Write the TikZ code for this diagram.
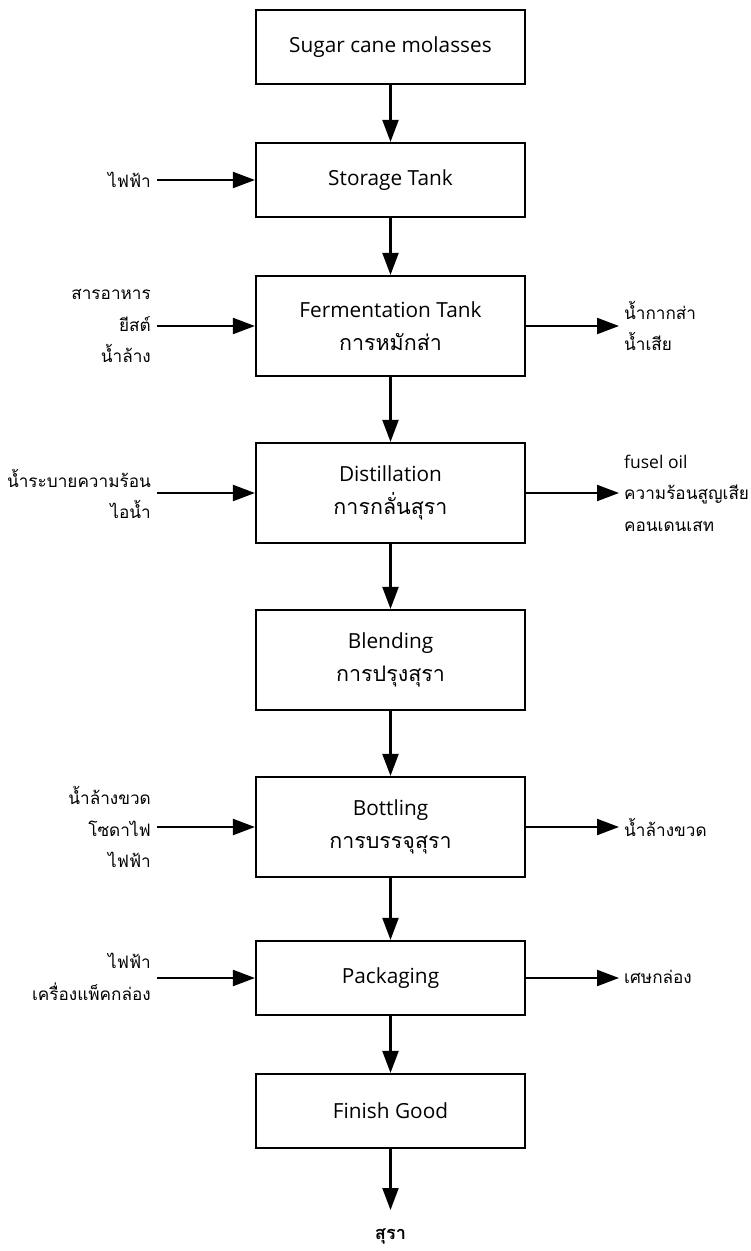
\documentclass[tikz,border=0pt]{standalone}
\usepackage{fontspec}
\setmainfont{Open Sans}
\newfontfamily\thai[Script=Thai,Scale=1.1]{Loma}
\usetikzlibrary{arrows.meta}
\begin{document}
\begin{tikzpicture}[x=1pt,y=-1pt,
  proc/.style={draw,line width=2.2pt,minimum width=269pt,minimum height=#1,
    align=center,font={\fontsize{20.8}{33}\selectfont},inner sep=0pt},
  proc/.default=74pt,
  thaibox/.style={font={\fontsize{19.5}{33}\selectfont}},
  lbl/.style={align=right,anchor=east,font={\fontsize{15.6}{31.5}\selectfont\thai},inner sep=0pt},
  rbl/.style={align=left,anchor=west,font={\fontsize{15.6}{31.5}\selectfont\thai},inner sep=0pt},
  flow/.style={line width=2.2pt,-{Triangle[length=22pt,width=16pt]}}]
\useasboundingbox (0,0) rectangle (751,1251);

% process chain
\node[proc] (molasses) at (390.5,47) {Sugar cane molasses};
\node[proc] (storage) at (390.5,180) {Storage Tank};
\node[proc=100pt] (ferment) at (390.5,326) {Fermentation Tank\\{\thai\fontsize{19.5}{33}\selectfont การหมักส่า}};
\node[proc=100pt] (distil) at (390.5,493) {Distillation\\{\thai\fontsize{19.5}{33}\selectfont การกลั่นสุรา}};
\node[proc=100pt] (blend) at (390.5,660) {Blending\\{\thai\fontsize{19.5}{33}\selectfont การปรุงสุรา}};
\node[proc=100pt] (bottle) at (390.5,827) {Bottling\\{\thai\fontsize{19.5}{33}\selectfont การบรรจุสุรา}};
\node[proc] (pack) at (390.5,978) {Packaging};
\node[proc] (finish) at (390.5,1111) {Finish Good};
\node[font={\fontsize{16.5}{18}\selectfont\thai\bfseries},inner sep=0pt] (product) at (390.5,1236) {สุรา};
\coordinate (prodtip) at (390.5,1210);

\draw[flow] (molasses.south) -- (storage.north);
\draw[flow] (storage.south) -- (ferment.north);
\draw[flow] (ferment.south) -- (distil.north);
\draw[flow] (distil.south) -- (blend.north);
\draw[flow] (blend.south) -- (bottle.north);
\draw[flow] (bottle.south) -- (pack.north);
\draw[flow] (pack.south) -- (finish.north);
\draw[flow] (finish.south) -- (prodtip);

% inputs
\node[lbl] (in1) at (151,180) {ไฟฟ้า};
\node[lbl] (in2) at (151,326) {สารอาหาร\\ยีสต์\\น้ำล้าง};
\node[lbl] (in3) at (151,494) {น้ำระบายความร้อน\\ไอน้ำ};
\node[lbl] (in4) at (151,827) {น้ำล้างขวด\\โซดาไฟ\\ไฟฟ้า};
\node[lbl] (in5) at (151,977) {ไฟฟ้า\\เครื่องแพ็คกล่อง};

\draw[flow] (storage.west -| in1.east) ++(6,0) -- (storage.west);
\draw[flow] (ferment.west -| in2.east) ++(6,0) -- (ferment.west);
\draw[flow] (distil.west -| in3.east) ++(6,0) -- (distil.west);
\draw[flow] (bottle.west -| in4.east) ++(6,0) -- (bottle.west);
\draw[flow] (pack.west -| in5.east) ++(6,0) -- (pack.west);

% outputs
\node[rbl] (out1) at (624,326) {น้ำกากส่า\\น้ำเสีย};
\node[rbl] (out2) at (624,493) {{\normalfont\fontsize{17.5}{31.5}\selectfont fusel oil}\\ความร้อนสูญเสีย\\คอนเดนเสท};
\node[rbl] (out3) at (624,827) {น้ำล้างขวด};
\node[rbl] (out4) at (624,977) {เศษกล่อง};

\draw[flow] (ferment.east) -- ([xshift=-5pt]ferment.east -| out1.west);
\draw[flow] (distil.east) -- ([xshift=-5pt]distil.east -| out2.west);
\draw[flow] (bottle.east) -- ([xshift=-5pt]bottle.east -| out3.west);
\draw[flow] (pack.east) -- ([xshift=-5pt]pack.east -| out4.west);
\end{tikzpicture}
\end{document}
